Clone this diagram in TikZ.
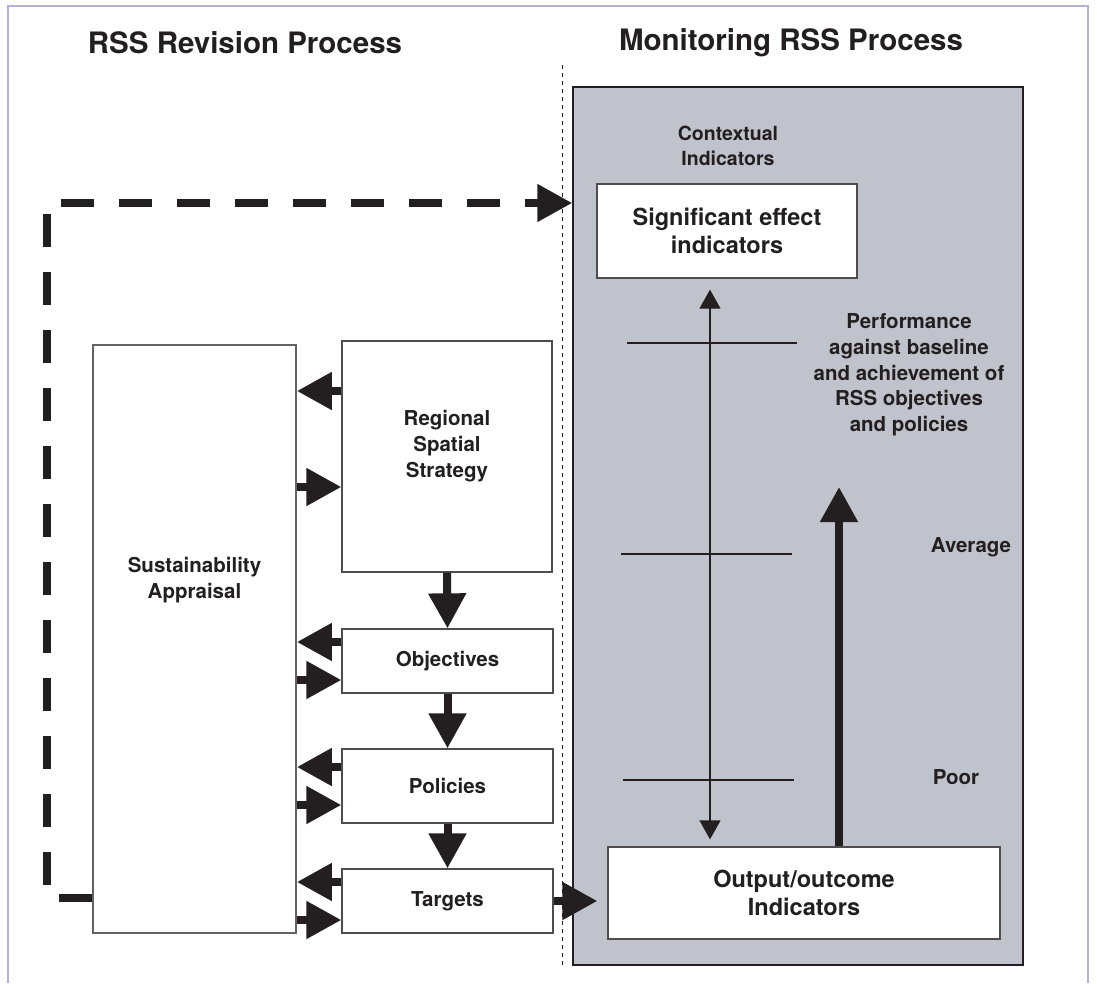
\documentclass[tikz,border=0pt]{standalone}
\usepackage{fontspec}
\setmainfont{TeX Gyre Heros}
\usetikzlibrary{arrows.meta}

\definecolor{framecol}{HTML}{B8AEDC}
\definecolor{panelcol}{HTML}{C0C3CB}
\definecolor{ink}{HTML}{231F20}

\tikzset{
  box/.style={draw=ink!80, line width=1.3pt, fill=white, inner sep=0pt},
  title/.style={font=\bfseries\fontsize{29.5}{35}\selectfont, text=ink},
  lbl/.style={font=\bfseries\fontsize{20.5}{25.7}\selectfont, text=ink, align=center},
  biglbl/.style={font=\bfseries\fontsize{23.5}{28}\selectfont, text=ink, align=center},
  fat/.style={ink, line width=8pt, -{Triangle[width=36pt,length=35pt]}},
  thin/.style={ink, line width=1.3pt, {Triangle[width=21pt,length=19pt]}-{Triangle[width=21pt,length=19pt]}},
  feedback/.style={fat, dash pattern=on 33pt off 25pt},
}

\begin{document}
\begin{tikzpicture}[x=1pt, y=-1pt]
  \useasboundingbox (0,0) rectangle (1097,983);

  % frame and headings
  \draw[framecol, line width=1.5pt] (8,983) -- (8,6) -- (1088,6) -- (1088,983);
  \node[title] (revhead) at (245,43) {RSS Revision Process};
  \node[title] (monhead) at (791,43) {Monitoring RSS Process};
  \draw[ink, line width=1pt, dash pattern=on 4pt off 4pt] (562,65) -- (562,968);

  % monitoring panel
  \node[draw=ink, line width=1.5pt, fill=panelcol, minimum width=450, minimum height=878] (monitor) at (798,526) {};
  \node[lbl, font=\bfseries\fontsize{19.5}{25.7}\selectfont] (context) at (728,146) {Contextual\\Indicators};
  \node[box, minimum width=260, minimum height=94] (sig) at (727,231) {};
  \node[biglbl] (siglbl) at (sig) {Significant effect\\indicators};
  \node[box, minimum width=392, minimum height=92] (out) at (804,893) {};
  \node[biglbl] (outlbl) at (out) {Output/outcome\\Indicators};

  % scale
  \foreach \ya/\xa/\xb in {343/627/797, 554/621/792, 780/623/794}
    \draw[ink, line width=1.3pt] (\xa,\ya) -- (\xb,\ya);
  \draw[thin, shorten <=7pt, shorten >=11pt] (out.north -| 710,0) -- (sig.south -| 710,0);
  \draw[fat] (out.north -| 839,0) -- (839,487);
  \node[lbl] (perf) at (909,375) {Performance\\against baseline\\and achievement of\\RSS objectives\\and policies};
  \node[lbl] (avg) at (971,547) {Average};
  \node[lbl] (poor) at (956,777) {Poor};

  % revision chain
  \node[box, draw=ink!70, line width=1.8pt, minimum width=203, minimum height=588] (sa) at (194.5,639) {};
  \node[lbl] (salbl) at (194.5,580) {Sustainability\\Appraisal};
  \node[box, minimum width=210, minimum height=231] (rss) at (447,456.5) {};
  \node[lbl] (rsslbl) at (447,446) {Regional\\Spatial\\Strategy};
  \node[box, minimum width=211, minimum height=64] (obj) at (447.5,661) {};
  \node[lbl] at (obj) {Objectives};
  \node[box, minimum width=211, minimum height=74] (pol) at (447.5,786) {};
  \node[lbl] at (pol) {Policies};
  \node[box, minimum width=211, minimum height=64] (tgt) at (447.5,901) {};
  \node[lbl] at (tgt) {Targets};

  \draw[fat] (rss.south) -- (obj.north);
  \draw[fat] (obj.south) -- (pol.north);
  \draw[fat] (pol.south) -- (tgt.north);

  % links to the appraisal
  \coordinate (rssback) at ([yshift=65.5pt]rss.west);
  \coordinate (rssfwd) at ([yshift=-30.5pt]rss.west);
  \draw[fat] (rssback) -- (sa.east |- rssback);
  \draw[fat] (sa.east |- rssfwd) -- (rssfwd);
  \foreach \b in {obj,pol,tgt} {
    \coordinate (back) at ([yshift=19pt]\b.west);
    \coordinate (fwd) at ([yshift=-19pt]\b.west);
    \draw[fat] (back) -- (sa.east |- back);
    \draw[fat] (sa.east |- fwd) -- (fwd);
  }
  \draw[fat, shorten >=10pt] (tgt.east) -- (out.west |- tgt.east);

  % feedback loop
  \coordinate (turn) at (47,203);
  \draw[feedback] (sa.west |- 0,898) -| (turn) -- (monitor.west |- turn);
\end{tikzpicture}
\end{document}
